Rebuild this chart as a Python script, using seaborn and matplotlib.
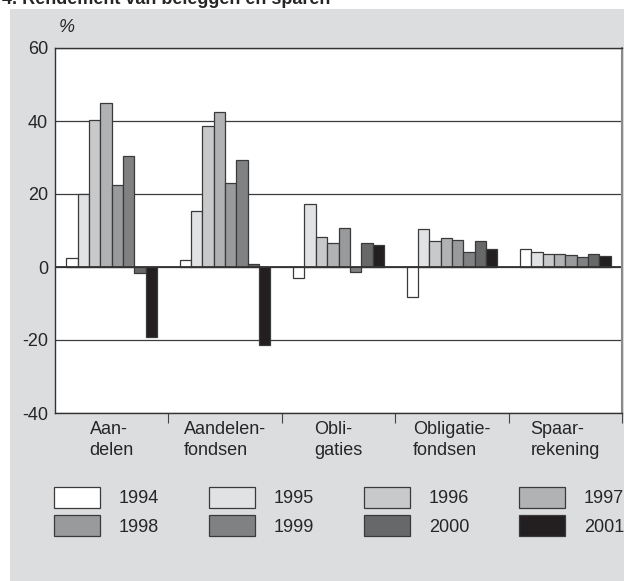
import numpy as np
import pandas as pd
from matplotlib import pyplot as plt
from matplotlib.patches import Patch, Rectangle
import seaborn as sns

# Rendement per beleggingsvorm, 1994-2001 (%)
categories = ['Aan-\ndelen', 'Aandelen-\nfondsen', 'Obli-\ngaties',
              'Obligatie-\nfondsen', 'Spaar-\nrekening']
years = ['1994', '1995', '1996', '1997', '1998', '1999', '2000', '2001']

aandelen = [2.4, 19.9, 40.3, 44.9, 22.4, 30.5, -1.7, -19.2]
aandelenfondsen = [1.8, 15.4, 38.5, 42.4, 23.1, 29.2, 0.7, -21.5]
obligaties = [-2.9, 17.3, 8.1, 6.5, 10.6, -1.5, 6.7, 6.1]
obligatiefondsen = [-8.1, 10.4, 7.0, 7.9, 7.5, 4.2, 7.1, 4.8]
spaarrekening = [5.0, 4.2, 3.5, 3.5, 3.2, 2.7, 3.5, 3.1]

year_colors = ['#ffffff', '#e1e2e4', '#c7c9cb', '#b1b2b4',
               '#989a9c', '#808183', '#67686a', '#231f20']
y_ticks = [-40, -20, 0, 20, 40, 60]

series = [aandelen, aandelenfondsen, obligaties, obligatiefondsen, spaarrekening]
rows = []
for cat, vals in zip(categories, series):
    for yr, v in zip(years, vals):
        rows.append({'categorie': cat, 'jaar': yr, 'rendement': v})
df = pd.DataFrame(rows)

sns.set_style('white')
plt.rcParams['font.family'] = ['Liberation Sans', 'DejaVu Sans']
plt.rcParams['axes.unicode_minus'] = False

fig = plt.figure(figsize=(6.24, 5.81), dpi=100)
fig.patches.append(Rectangle((10 / 624, 0), 1, 1 - 9 / 581, transform=fig.transFigure,
                             facecolor='#dcdddf', edgecolor='none', zorder=-1))
ax = fig.add_axes([55 / 624, 1 - 413 / 581, 567 / 624, 365 / 581])
ax.set_facecolor('white')

palette = dict(zip(years, year_colors))
sns.barplot(data=df, x='categorie', y='rendement', hue='jaar', hue_order=years,
            order=categories, palette=palette, saturation=1, width=0.8,
            errorbar=None, edgecolor='#3a3a3a', linewidth=0.9, legend=False, ax=ax)

ax.set_ylim(-40, 60)
ax.set_xlim(-0.5, len(categories) - 0.5)
ax.set_yticks(y_ticks)
ax.set_yticklabels([str(t) for t in y_ticks], fontsize=13)
ax.tick_params(axis='y', length=0, pad=5)

# boundary ticks between groups, category names written below each group
ax.set_xticks(np.arange(len(categories)) + 0.5)
ax.set_xticklabels([''] * len(categories))
ax.tick_params(axis='x', which='major', length=7, width=0.8, color='#444444', bottom=True)
for i, cat in enumerate(categories):
    ax.text(i, -8 / 365, cat, transform=ax.get_xaxis_transform(), fontsize=13,
            ha='center', va='top', multialignment='left', linespacing=1.3)
ax.set_xlabel('')
ax.set_ylabel('')

ax.set_axisbelow(True)
ax.yaxis.grid(True, color='#3c3c3c', linewidth=0.9)
ax.axhline(0, color='#333333', linewidth=1.3, zorder=1.5)
for side in ['left', 'bottom', 'top']:
    ax.spines[side].set_color('#333333')
    ax.spines[side].set_linewidth(1.0)
ax.spines['right'].set_color('#8a8a8a')
ax.spines['right'].set_linewidth(1.5)

fig.text(2 / 624, 1 - 4 / 581, '4. Rendement van beleggen en sparen',
         fontsize=13, fontweight='bold', va='baseline', ha='left')
fig.text(67 / 624, 1 - 28 / 581, '%', fontsize=13, style='italic',
         ha='center', va='center')

# legend in 2 rows of 4, filled row by row
handles = [Patch(facecolor=c, edgecolor='#3a3a3a', linewidth=0.9) for c in year_colors]
order = [0, 4, 1, 5, 2, 6, 3, 7]
fig.legend([handles[i] for i in order], [years[i] for i in order], ncol=4,
           loc='upper left', bbox_to_anchor=(54 / 624, 1 - 487 / 581),
           frameon=False, fontsize=13, borderpad=0, borderaxespad=0,
           handlelength=2.55, handleheight=1.4, handletextpad=1.05,
           columnspacing=2.75, labelspacing=0.42)

fig.savefig('out.png', dpi=100)
